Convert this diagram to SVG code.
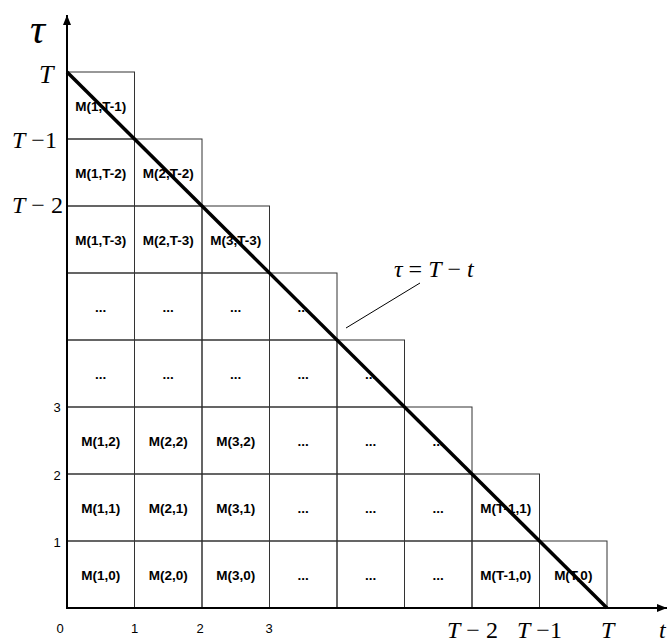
<svg xmlns="http://www.w3.org/2000/svg" width="672" height="643" viewBox="0 0 672 643">
<style>
.cell rect{fill:none;stroke:#333;stroke-width:1}
.cell text{font-family:"Liberation Sans",Arial,sans-serif;font-weight:bold;font-size:13.5px;text-anchor:middle;fill:#000}
.num{font-family:"Liberation Sans",Arial,sans-serif;font-size:13px;text-anchor:middle;fill:#000}
.math{font-family:"Liberation Serif","Times New Roman",serif;font-size:24px;fill:#000}
.big{font-size:26px}
.tau{font-size:42px}
.it{font-style:italic}
.axis{stroke:#000;stroke-width:2;fill:none}
</style>
<defs>
<marker id="arr" viewBox="0 0 10 8" refX="10" refY="4" markerWidth="10" markerHeight="8" markerUnits="userSpaceOnUse" orient="auto">
<path d="M0,0 L10,4 L0,8 Z" fill="#000"/>
</marker>
</defs>
<g id="cells">
<g id="r0" class="cell"><rect x="67" y="72" width="67.5" height="67"/><text x="100.75" y="110.5">M(1,T-1)</text></g>
<g id="r1" class="cell">
<rect x="67" y="139" width="67.5" height="67"/><text x="100.75" y="177.5">M(1,T-2)</text>
<rect x="134.5" y="139" width="67.5" height="67"/><text x="168.25" y="177.5">M(2,T-2)</text>
</g>
<g id="r2" class="cell">
<rect x="67" y="206" width="67.5" height="67"/><text x="100.75" y="244.5">M(1,T-3)</text>
<rect x="134.5" y="206" width="67.5" height="67"/><text x="168.25" y="244.5">M(2,T-3)</text>
<rect x="202" y="206" width="67.5" height="67"/><text x="235.75" y="244.5">M(3,T-3)</text>
</g>
<g id="r3" class="cell">
<rect x="67" y="273" width="67.5" height="67"/><text x="100.75" y="311.5">...</text>
<rect x="134.5" y="273" width="67.5" height="67"/><text x="168.25" y="311.5">...</text>
<rect x="202" y="273" width="67.5" height="67"/><text x="235.75" y="311.5">...</text>
<rect x="269.5" y="273" width="67.5" height="67"/><text x="303.25" y="311.5">...</text>
</g>
<g id="r4" class="cell">
<rect x="67" y="340" width="67.5" height="67"/><text x="100.75" y="378.5">...</text>
<rect x="134.5" y="340" width="67.5" height="67"/><text x="168.25" y="378.5">...</text>
<rect x="202" y="340" width="67.5" height="67"/><text x="235.75" y="378.5">...</text>
<rect x="269.5" y="340" width="67.5" height="67"/><text x="303.25" y="378.5">...</text>
<rect x="337" y="340" width="67.5" height="67"/><text x="370.75" y="378.5">...</text>
</g>
<g id="r5" class="cell">
<rect x="67" y="407" width="67.5" height="67"/><text x="100.75" y="445.5">M(1,2)</text>
<rect x="134.5" y="407" width="67.5" height="67"/><text x="168.25" y="445.5">M(2,2)</text>
<rect x="202" y="407" width="67.5" height="67"/><text x="235.75" y="445.5">M(3,2)</text>
<rect x="269.5" y="407" width="67.5" height="67"/><text x="303.25" y="445.5">...</text>
<rect x="337" y="407" width="67.5" height="67"/><text x="370.75" y="445.5">...</text>
<rect x="404.5" y="407" width="67.5" height="67"/><text x="438.25" y="445.5">...</text>
</g>
<g id="r6" class="cell">
<rect x="67" y="474" width="67.5" height="67"/><text x="100.75" y="512.5">M(1,1)</text>
<rect x="134.5" y="474" width="67.5" height="67"/><text x="168.25" y="512.5">M(2,1)</text>
<rect x="202" y="474" width="67.5" height="67"/><text x="235.75" y="512.5">M(3,1)</text>
<rect x="269.5" y="474" width="67.5" height="67"/><text x="303.25" y="512.5">...</text>
<rect x="337" y="474" width="67.5" height="67"/><text x="370.75" y="512.5">...</text>
<rect x="404.5" y="474" width="67.5" height="67"/><text x="438.25" y="512.5">...</text>
<rect x="472" y="474" width="67.5" height="67"/><text x="505.75" y="512.5">M(T-1,1)</text>
</g>
<g id="r7" class="cell">
<rect x="67" y="541" width="67.5" height="67"/><text x="100.75" y="579.5">M(1,0)</text>
<rect x="134.5" y="541" width="67.5" height="67"/><text x="168.25" y="579.5">M(2,0)</text>
<rect x="202" y="541" width="67.5" height="67"/><text x="235.75" y="579.5">M(3,0)</text>
<rect x="269.5" y="541" width="67.5" height="67"/><text x="303.25" y="579.5">...</text>
<rect x="337" y="541" width="67.5" height="67"/><text x="370.75" y="579.5">...</text>
<rect x="404.5" y="541" width="67.5" height="67"/><text x="438.25" y="579.5">...</text>
<rect x="472" y="541" width="67.5" height="67"/><text x="505.75" y="579.5">M(T-1,0)</text>
<rect x="539.5" y="541" width="67.5" height="67"/><text x="573.25" y="579.5">M(T,0)</text>
</g>
</g>
<g id="connectors">
<line class="axis" x1="67" y1="609" x2="67" y2="15" marker-end="url(#arr)"/>
<line class="axis" x1="66" y1="608" x2="667" y2="608" marker-end="url(#arr)"/>
<line x1="67" y1="72" x2="607" y2="608" stroke="#000" stroke-width="3.5"/>
<line x1="346" y1="328" x2="420" y2="283" stroke="#000" stroke-width="1"/>
</g>
<g id="labels">
<text class="math it tau" x="30" y="43">τ</text>
<text class="math it big" x="39" y="83">T</text>
<text class="math" x="12" y="148"><tspan class="it">T</tspan> −1</text>
<text class="math" x="12" y="213"><tspan class="it">T</tspan> − 2</text>
<text class="math" x="394" y="277"><tspan class="it">τ</tspan> = <tspan class="it">T</tspan> − <tspan class="it">t</tspan></text>
<text class="math" x="447" y="638"><tspan class="it">T</tspan> − 2</text>
<text class="math" x="517" y="638"><tspan class="it">T</tspan> −1</text>
<text class="math it" x="601" y="638">T</text>
<text class="math it" x="659" y="638">t</text>
<text class="num" x="57" y="412">3</text>
<text class="num" x="57" y="480">2</text>
<text class="num" x="57" y="547">1</text>
<text class="num" x="60" y="633">0</text>
<text class="num" x="134.5" y="633">1</text>
<text class="num" x="200" y="633">2</text>
<text class="num" x="269" y="633">3</text>
</g>
</svg>
